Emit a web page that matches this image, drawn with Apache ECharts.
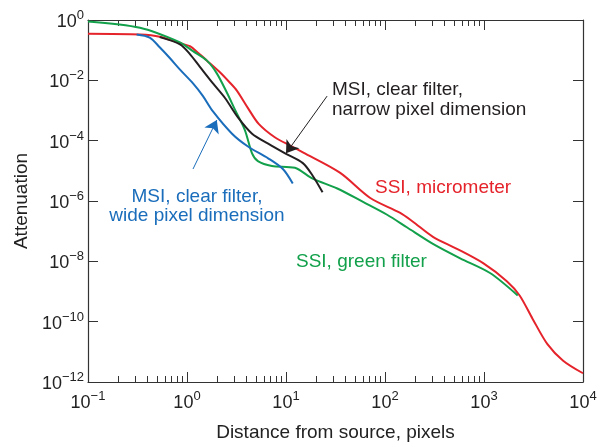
<!DOCTYPE html>
<html>
<head>
<meta charset="utf-8">
<script src="https://cdn.jsdelivr.net/npm/echarts@6/dist/echarts.min.js"></script>
<style>
  html, body { margin: 0; padding: 0; background: #fff; }
  #chart { width: 604px; height: 447px; }
</style>
</head>
<body>
<div id="chart"></div>
<script>
// curves (x: pixels, y: attenuation)
var ssiMicroX = [0.1, 0.335, 0.53, 0.85, 1.07, 1.3, 1.59, 2.1, 2.7, 3.2, 4.13, 5.3, 7.7, 11.5, 14.8, 35, 71, 141, 190, 305, 533, 980, 1700, 2290, 3090, 4370, 6300, 10000];
var ssiMicroY = [0.35, 0.33, 0.28, 0.17, 0.135, 0.08, 0.045, 0.02, 8.5e-3, 4.5e-3, 1.2e-3, 3.6e-4, 1.3e-4, 6.4e-5, 4.1e-5, 8.7e-6, 1.26e-6, 4.1e-7, 2.1e-7, 6.5e-8, 2.6e-8, 8.7e-9, 2.2e-9, 7.4e-10, 1.26e-10, 1.8e-11, 5.1e-12, 1.95e-12];

var ssiGreenX = [0.1, 0.335, 0.85, 1.15, 1.59, 2.0, 2.54, 3.05, 3.85, 4.54, 5.2, 7.2, 12.3, 18.6, 33, 60, 105, 166, 305, 575, 1150, 2190];
var ssiGreenY = [0.89, 0.55, 0.18, 0.093, 0.045, 0.017, 3.8e-3, 1.07e-3, 2.2e-4, 3.8e-5, 2.1e-5, 1.45e-5, 1.26e-5, 5.5e-6, 2.6e-6, 9.3e-7, 3.5e-7, 1.35e-7, 3.8e-8, 1.26e-8, 4.1e-9, 7.4e-10];

var msiNarrowX = [0.53, 0.85, 1.07, 1.35, 1.83, 2.42, 3.27, 4.54, 6.6, 9.8, 14.8, 18.6, 23.4];
var msiNarrowY = [0.27, 0.155, 0.074, 0.028, 7.9e-3, 2.6e-3, 5.9e-4, 1.7e-4, 8e-5, 3.8e-5, 1.8e-5, 6.9e-6, 1.95e-6];

var msiWideX = [0.31, 0.42, 0.53, 0.67, 0.85, 1.15, 1.45, 1.83, 2.85, 4.13, 6.6, 9.3, 11.7];
var msiWideY = [0.33, 0.26, 0.125, 0.055, 0.0226, 7.9e-3, 3.0e-3, 9.3e-4, 1.7e-4, 6.4e-5, 2.6e-5, 1.15e-5, 3.8e-6];

// annotation arrows [from, to]
var narrowArrow = [[26, 3.0e-3], [10, 3.8e-5]];
var wideArrow = [[1.15, 1.15e-5], [2.0, 4.8e-4]];

var xMajor = [0.1, 1, 10, 100, 1000, 10000];
var xMinor = [];
for (var d = 0; d < 4; d++) {
    for (var k = 2; k <= 9; k++) {
        xMinor.push(+(k * Math.pow(10, d - 1)).toPrecision(3));
    }
}

function zip(xs, ys) {
    var out = [];
    for (var i = 0; i < xs.length; i++) out.push([xs[i], ys[i]]);
    return out;
}

var FONT = 'Liberation Sans, Arial, Helvetica, sans-serif';
var AXIS_COLOR = '#333';

function powLabel(v) {
    var e = Math.round(Math.log10(v));
    var s = e < 0 ? '\u2212' + (-e) : '' + e;
    return '{b|10}{s|' + s + '}';
}

var richPow = {
    b: { fontSize: 18, fontFamily: FONT, color: '#222', lineHeight: 22, verticalAlign: 'bottom' },
    s: { fontSize: 13, fontFamily: FONT, color: '#222', lineHeight: 13, verticalAlign: 'top' }
};

function xAxisDef(pos, major, showLabel) {
    return {
        type: 'log',
        logBase: 10,
        position: pos,
        min: 0.1,
        max: 10000,
        axisLine: { show: major, lineStyle: { color: AXIS_COLOR, width: 1.2 } },
        axisTick: {
            show: true,
            inside: true,
            length: major ? 10 : 6,
            customValues: major ? xMajor : xMinor,
            lineStyle: { color: AXIS_COLOR, width: 1 }
        },
        axisLabel: showLabel ? {
            show: true,
            customValues: xMajor,
            margin: 8,
            formatter: powLabel,
            rich: richPow
        } : { show: false },
        splitLine: { show: false },
        name: showLabel ? 'Distance from source, pixels' : '',
        nameLocation: 'middle',
        nameGap: 41,
        nameTextStyle: { fontSize: 19, fontFamily: FONT, color: '#222' }
    };
}

function yAxisDef(pos, showLabel) {
    return {
        type: 'log',
        logBase: 100,
        position: pos,
        min: 1e-12,
        max: 1,
        splitNumber: 6,
        axisLine: { show: true, lineStyle: { color: AXIS_COLOR, width: 1.2 } },
        axisTick: { show: true, inside: true, length: 10, lineStyle: { color: AXIS_COLOR } },
        axisLabel: showLabel ? {
            show: true,
            margin: 4,
            formatter: powLabel,
            rich: richPow
        } : { show: false },
        splitLine: { show: false },
        name: showLabel ? 'Attenuation' : '',
        nameLocation: 'middle',
        nameGap: 55,
        nameTextStyle: { fontSize: 19, fontFamily: FONT, color: '#222' }
    };
}

function curve(name, xs, ys, color, arrow) {
    var s = {
        name: name,
        type: 'line',
        xAxisIndex: 0,
        yAxisIndex: 0,
        data: zip(xs, ys),
        smooth: 0.3,
        showSymbol: false,
        lineStyle: { color: color, width: 2 },
        silent: true,
        z: 3
    };
    if (arrow) {
        s.markLine = {
            silent: true,
            symbol: ['none', 'arrow'],
            symbolSize: 12,
            label: { show: false },
            lineStyle: { color: color, width: 1, type: 'solid' },
            data: [[{ coord: arrow[0] }, { coord: arrow[1] }]]
        };
    }
    return s;
}

var chart = echarts.init(document.getElementById('chart'), null, { renderer: 'canvas' });
chart.setOption({
    backgroundColor: '#fff',
    animation: false,
    grid: { left: 88, right: 21, top: 20, bottom: 55 },
    xAxis: [
        xAxisDef('bottom', true, true),
        xAxisDef('bottom', false, false),
        xAxisDef('top', true, false),
        xAxisDef('top', false, false)
    ],
    yAxis: [
        yAxisDef('left', true),
        yAxisDef('right', false)
    ],
    series: [
        curve('SSI, micrometer', ssiMicroX, ssiMicroY, '#e5232b'),
        curve('SSI, green filter', ssiGreenX, ssiGreenY, '#12a04b'),
        curve('MSI, narrow', msiNarrowX, msiNarrowY, '#231f20', narrowArrow),
        curve('MSI, wide', msiWideX, msiWideY, '#1a6dbb', wideArrow)
    ],
    graphic: [
        {
            type: 'text', left: 332, top: 80,
            style: { text: 'MSI, clear filter,\nnarrow pixel dimension', fill: '#231f20', fontSize: 19, fontFamily: FONT, lineHeight: 20 }
        },
        {
            type: 'text', left: 375, top: 178,
            style: { text: 'SSI, micrometer', fill: '#e5232b', fontSize: 19, fontFamily: FONT }
        },
        {
            type: 'text', left: 296, top: 252,
            style: { text: 'SSI, green filter', fill: '#12a04b', fontSize: 19, fontFamily: FONT }
        },
        {
            type: 'text', x: 197, y: 187,
            style: { text: 'MSI, clear filter,\nwide pixel dimension', fill: '#1a6dbb', fontSize: 19, fontFamily: FONT, lineHeight: 19, align: 'center' }
        }
    ]
});
</script>
</body>
</html>
